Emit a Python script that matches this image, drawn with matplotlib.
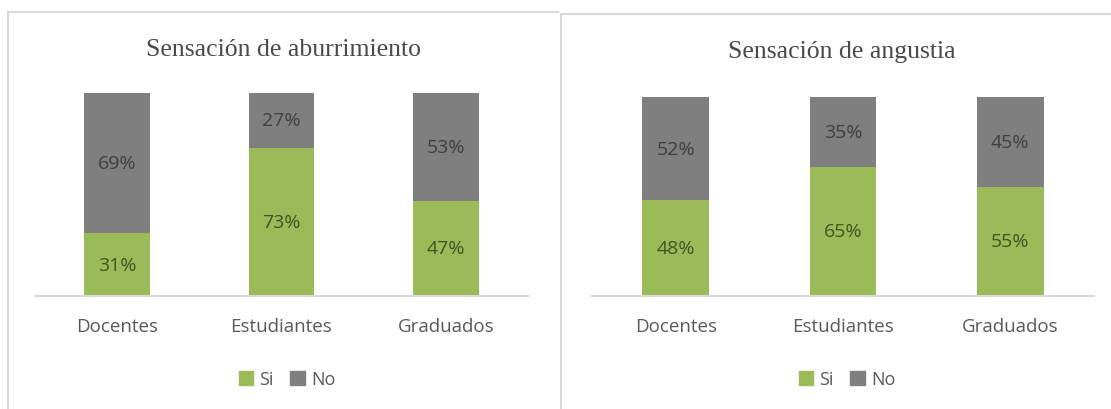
import numpy as np
import matplotlib
matplotlib.use("Agg")
import matplotlib.pyplot as plt
from matplotlib.lines import Line2D
from matplotlib.patches import Patch

# Data
categorias = ["Docentes", "Estudiantes", "Graduados"]
titulos = ["Sensación de aburrimiento", "Sensación de angustia"]
si_aburrimiento = [31, 73, 47]
no_aburrimiento = [69, 27, 53]
si_angustia = [48, 65, 55]
no_angustia = [52, 35, 45]

verde = "#9BBB59"
gris = "#7F7F7F"
texto_verde = "#3F5522"
texto_gris = "#3F3F3F"
texto_eje = "#595959"
borde = "#D9D9D9"

W, H = 1111, 410
fig = plt.figure(figsize=(W / 100, H / 100), dpi=100)
fig.patch.set_facecolor("white")


def px(x, y):
    return x / W, 1 - y / H


# Panel frames: left + top edges only
for x0, x1, y0 in [(7.5, 558, 13), (561, 1111, 15)]:
    for xs, ys in [([x0, x0], [y0, H]), ([x0, x1], [y0, y0])]:
        fig.add_artist(Line2D([v / W for v in xs], [1 - v / H for v in ys],
                              transform=fig.transFigure, color=borde, linewidth=1.5))

paneles = [
    # axes left, right, top, title x, title y, legend x, series
    (35, 528, 94, 284, 50, 287, si_aburrimiento, no_aburrimiento),
    (592, 1094, 98, 842, 52, 847, si_angustia, no_angustia),
]

base = 297
for i, (xl, xr, top, tx, ty, lx, si, no) in enumerate(paneles):
    ax = fig.add_axes([xl / W, 1 - base / H, (xr - xl) / W, (base - top) / H])
    x = np.arange(len(categorias))
    ax.bar(x, si, width=0.4, color=verde, label="Si")
    ax.bar(x, no, width=0.4, bottom=si, color=gris, label="No")
    for xi, s, n in zip(x, si, no):
        ax.text(xi, s / 2, f"{s}%", ha="center", va="center",
                fontsize=14, color=texto_verde, family="Open Sans")
        ax.text(xi, s + n / 2, f"{n}%", ha="center", va="center",
                fontsize=14, color=texto_gris, family="Open Sans")
    ax.set_xlim(-0.5, 2.5)
    ax.set_ylim(0, 100)
    ax.set_yticks([])
    ax.set_xticks(x)
    ax.set_xticklabels(categorias, family="Open Sans", fontsize=13.5, color=texto_eje)
    ax.tick_params(axis="x", length=0, pad=15)
    for s in ["top", "right", "left"]:
        ax.spines[s].set_visible(False)
    ax.spines["bottom"].set_color(borde)
    ax.spines["bottom"].set_linewidth(1.5)
    ax.patch.set_alpha(0)

    fig.text(*px(tx, ty), titulos[i], ha="center", va="center",
             family="Liberation Serif", fontsize=18.5, color="#4A4A4A")

    handles = [Patch(color=verde, label="Si"), Patch(color=gris, label="No")]
    fig.legend(handles=handles, loc="center", bbox_to_anchor=px(lx, 380),
               ncol=2, frameon=False, handlelength=0.8, handleheight=0.8,
               handletextpad=0.35, columnspacing=0.9,
               prop={"family": "Open Sans", "size": 13}, labelcolor=texto_eje)

fig.savefig("out.png", dpi=100)
